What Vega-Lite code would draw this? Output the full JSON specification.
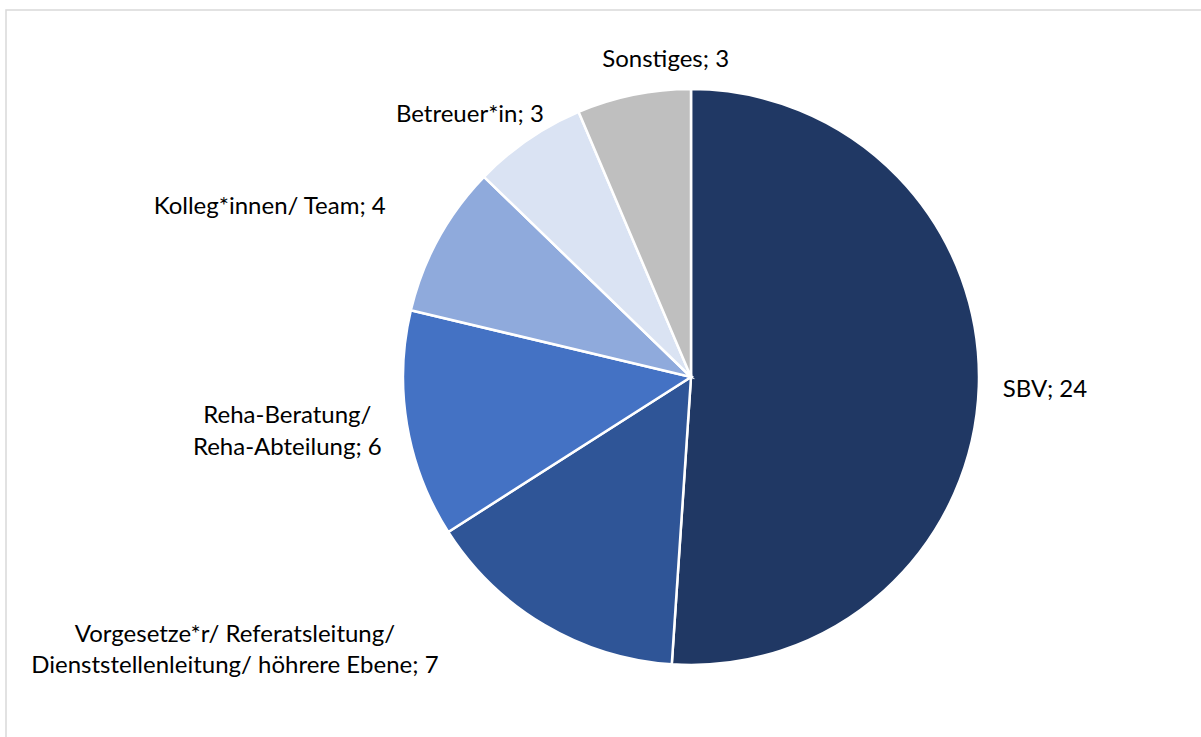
{
  "$schema": "https://vega.github.io/schema/vega-lite/v6.json",
  "autosize": "none",
  "padding": {"left": 6, "top": 10, "right": 0, "bottom": 0},
  "width": 1370,
  "height": 734,
  "background": "white",
  "view": {"stroke": "#D9D9D9", "strokeWidth": 1.5, "fill": "white"},
  "config": {"view": {"stroke": "#D9D9D9", "strokeWidth": 1.5}, "style": {"cell": {"stroke": "#D9D9D9", "strokeWidth": 1.5}}},
  "data": {
    "values": [
      {"cat": "SBV", "n": 24, "idx": 1, "label": "SBV; 24"},
      {"cat": "Vorgesetze*r/ Referatsleitung/ Dienststellenleitung/ höhrere Ebene", "n": 7, "idx": 2, "label": "Vorgesetze*r/ Referatsleitung/\nDienststellenleitung/ höhrere Ebene; 7"},
      {"cat": "Reha-Beratung/ Reha-Abteilung", "n": 6, "idx": 3, "label": "Reha-Beratung/\nReha-Abteilung; 6"},
      {"cat": "Kolleg*innen/ Team", "n": 4, "idx": 4, "label": "Kolleg*innen/ Team; 4"},
      {"cat": "Betreuer*in", "n": 3, "idx": 5, "label": "Betreuer*in; 3"},
      {"cat": "Sonstiges", "n": 3, "idx": 6, "label": "Sonstiges; 3"}
    ]
  },
  "encoding": {
    "theta": {"field": "n", "type": "quantitative", "stack": true},
    "order": {"field": "idx", "type": "quantitative"}
  },
  "layer": [
    {
      "mark": {"type": "arc", "outerRadius": 288, "stroke": "white", "strokeWidth": 2.5},
      "encoding": {
        "color": {
          "field": "cat", "type": "nominal", "legend": null,
          "scale": {
            "domain": ["SBV", "Vorgesetze*r/ Referatsleitung/ Dienststellenleitung/ höhrere Ebene", "Reha-Beratung/ Reha-Abteilung", "Kolleg*innen/ Team", "Betreuer*in", "Sonstiges"],
            "range": ["#203864", "#2F5597", "#4472C4", "#8FAADC", "#DAE3F3", "#BFBFBF"]
          }
        }
      }
    },
    {
      "mark": {"type": "text", "radius": 312, "align": "left", "baseline": "middle", "dy": 3, "font": "Lato", "fontSize": 24, "fill": "#000000", "lineBreak": "\n", "lineHeight": 31},
      "encoding": {"text": {"condition": {"test": "datum.cat === 'SBV'", "field": "label"}, "value": ""}}
    },
    {
      "mark": {"type": "text", "radius": 318, "align": "center", "baseline": "middle", "dx": 38, "dy": -5, "font": "Lato", "fontSize": 24, "fill": "#000000", "lineBreak": "\n", "lineHeight": 31},
      "encoding": {"text": {"condition": {"test": "datum.cat === 'Sonstiges'", "field": "label"}, "value": ""}}
    },
    {
      "mark": {"type": "text", "radius": 320, "align": "center", "baseline": "middle", "dx": -40, "dy": 2, "font": "Lato", "fontSize": 24, "fill": "#000000", "lineBreak": "\n", "lineHeight": 31},
      "encoding": {"text": {"condition": {"test": "datum.cat === 'Betreuer*in'", "field": "label"}, "value": ""}}
    },
    {
      "mark": {"type": "text", "radius": 347, "align": "center", "baseline": "middle", "dx": -117, "dy": -3, "font": "Lato", "fontSize": 24, "fill": "#000000", "lineBreak": "\n", "lineHeight": 31},
      "encoding": {"text": {"condition": {"test": "datum.cat === 'Kolleg*innen/ Team'", "field": "label"}, "value": ""}}
    },
    {
      "mark": {"type": "text", "radius": 310, "align": "center", "baseline": "middle", "dx": -98, "dy": -13, "font": "Lato", "fontSize": 24, "fill": "#000000", "lineBreak": "\n", "lineHeight": 32},
      "encoding": {"text": {"condition": {"test": "datum.cat === 'Reha-Beratung/ Reha-Abteilung'", "field": "label"}, "value": ""}}
    },
    {
      "mark": {"type": "text", "radius": 320, "align": "center", "baseline": "middle", "dx": -293, "dy": -17, "font": "Lato", "fontSize": 24, "fill": "#000000", "lineBreak": "\n", "lineHeight": 31},
      "encoding": {"text": {"condition": {"test": "datum.idx === 2", "field": "label"}, "value": ""}}
    }
  ]
}
